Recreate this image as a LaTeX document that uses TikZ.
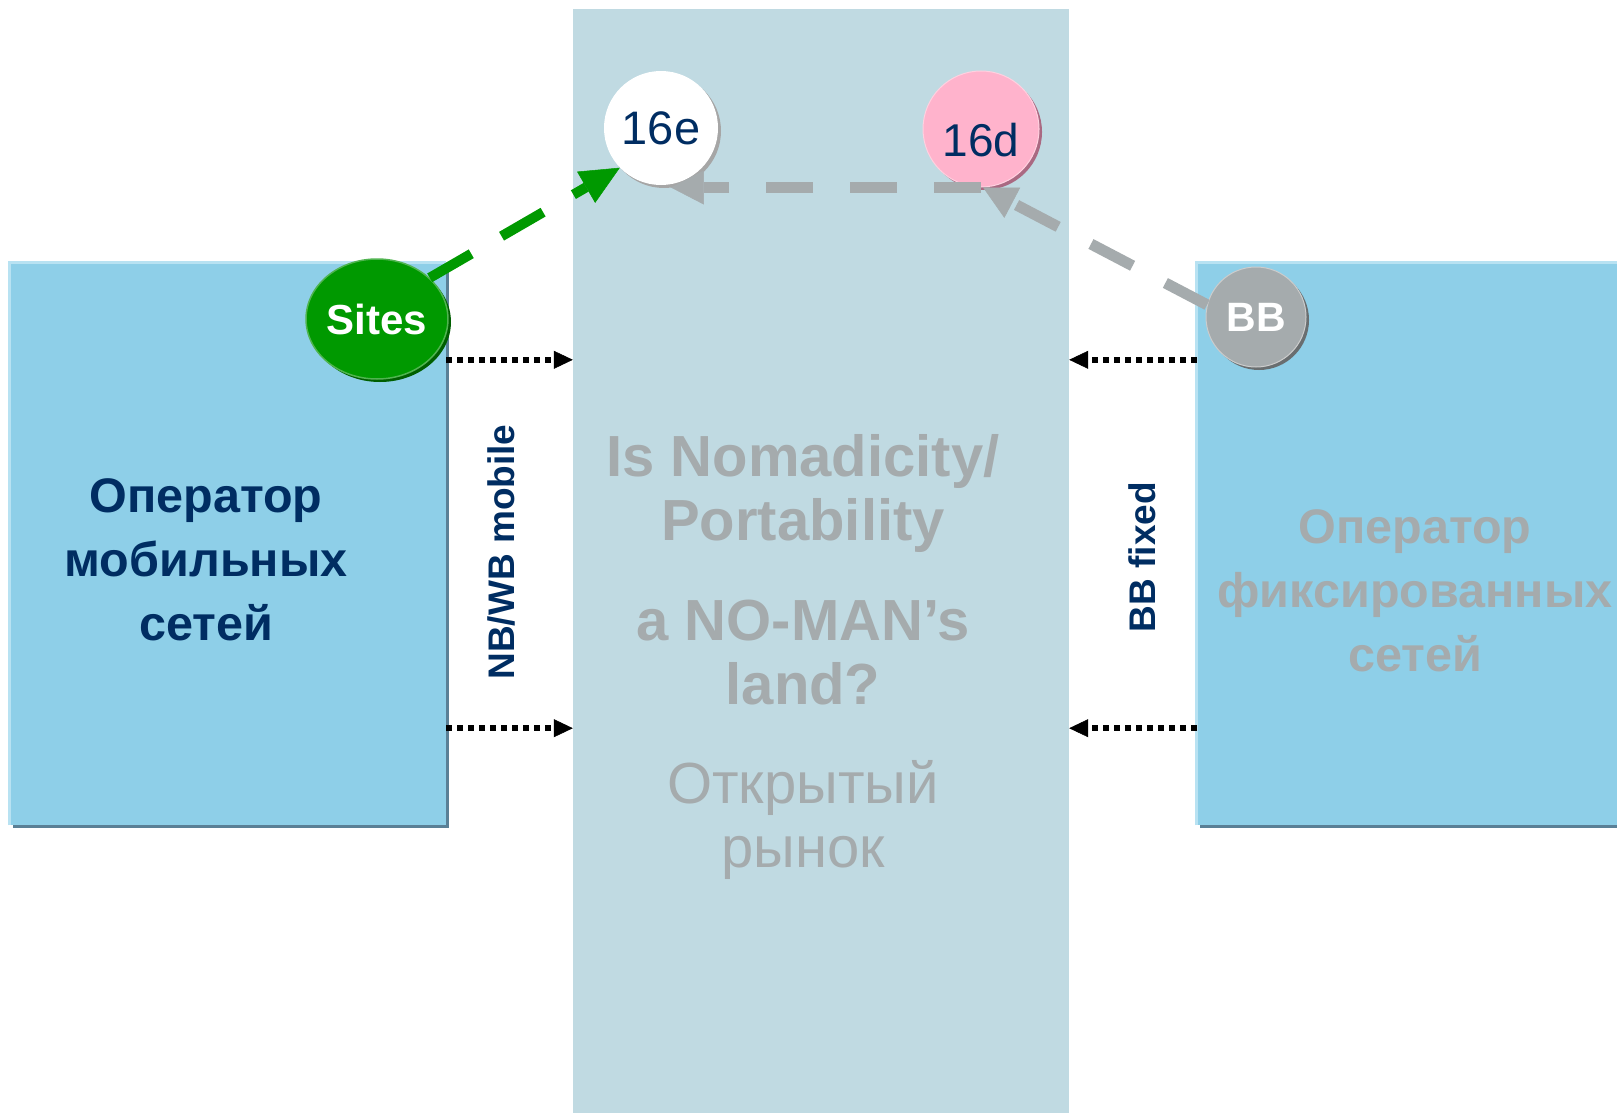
\documentclass[tikz,border=0pt]{standalone}
\usepackage{fontspec}
\setmainfont{Liberation Sans}
\usetikzlibrary{arrows.meta,shapes.geometric,shadows}
\definecolor{colbg}{RGB}{192,218,226}
\definecolor{boxbg}{RGB}{142,207,232}
\definecolor{boxlight}{RGB}{184,226,242}
\definecolor{boxdark}{RGB}{90,128,150}
\definecolor{navy}{RGB}{0,45,98}
\definecolor{txtgray}{RGB}{165,171,173}
\definecolor{sitegreen}{RGB}{0,153,0}
\definecolor{sitedark}{RGB}{0,95,0}
\definecolor{sitelight}{RGB}{80,180,80}
\definecolor{pinkc}{RGB}{255,179,204}
\definecolor{pinkdark}{RGB}{170,105,130}
\definecolor{bbgray}{RGB}{165,171,173}
\definecolor{bbdark}{RGB}{105,110,112}
\begin{document}
\begin{tikzpicture}[x=1pt,y=-1pt,
  opbox/.style={fill=boxbg, inner sep=0pt, minimum width=436pt, minimum height=562pt,
    drop shadow={shadow xshift=3pt, shadow yshift=-3pt, fill=boxdark, opacity=1}},
  bigtxt/.style={font=\fontsize{48.5}{64}\selectfont\bfseries, align=center},
  sidetxt/.style={font=\fontsize{37}{37}\selectfont\bfseries, text=navy, rotate=90},
  qtxt/.style={font=\fontsize{58}{64}\selectfont\bfseries, text=txtgray, align=center},
  dotarrow/.style={draw=black, line width=6pt, dash pattern=on 6pt off 5pt,
    -{Triangle[length=19pt,width=18pt,line width=0.5pt]}},
  greenarrow/.style={draw=sitegreen, line width=10pt, dash pattern=on 48pt off 35pt,
    -{Triangle[length=39pt,width=36pt,line width=0.5pt]}},
  grayarrow/.style={draw=bbgray, line width=11pt, dash pattern=on 47pt off 37pt,
    -{Triangle[length=33pt,width=34pt,line width=0.5pt]}},
  ball/.style={circle, inner sep=0pt},
]
\useasboundingbox (0,0) rectangle (1617,1113);
\fill[white] (0,0) rectangle (1617,1113);

% central column
\node[fill=colbg, inner sep=0pt, minimum width=496pt, minimum height=1104pt] (col) at (821,561) {};

% operator boxes
\node[opbox] (mob) at (228,544) {};
\draw[boxlight, line width=3pt] (mob.south west) -- (mob.north west) -- (mob.north east);
\node[opbox, minimum width=421pt] (fix) at (1407.5,544) {};
\draw[boxlight, line width=3pt] (fix.south west) -- (fix.north west) -- (fix.north east);

% texts
\node[bigtxt, text=navy] (mobtxt) at (206,560) {Оператор\\мобильных\\сетей};
\node[bigtxt, text=txtgray] (fixtxt) at (1415,591) {Оператор\\фиксированных\\сетей};
\node[qtxt] (q1) at (803,493) {Is Nomadicity/\\Portability};
\node[qtxt] (q2) at (803,653) {a NO-MAN’s\\land?};
\node[font=\fontsize{58}{64}\selectfont, text=txtgray, align=center] (open) at (803,820) {Открытый\\рынок};
\node[sidetxt] (nbwb) at (501,552) {NB/WB mobile};
\node[sidetxt] (bbfix) at (1142,557) {BB fixed};

% dotted arrows
\draw[dotarrow] ([yshift=-97pt]mob.north east) -- ([yshift=-97pt]mob.north east -| col.west);
\draw[dotarrow] ([yshift=97pt]mob.south east) -- ([yshift=97pt]mob.south east -| col.west);
\draw[dotarrow] ([yshift=-97pt]fix.north west) -- ([yshift=-97pt]fix.north west -| col.east);
\draw[dotarrow] ([yshift=97pt]fix.south west) -- ([yshift=97pt]fix.south west -| col.east);

% balls
\node[ellipse, inner sep=0pt, minimum width=137pt, minimum height=120pt, fill=sitegreen,
  draw=sitelight, line width=1.5pt,
  drop shadow={shadow xshift=3pt, shadow yshift=-3pt, fill=sitedark, opacity=1},
  font=\fontsize{42}{42}\selectfont\bfseries, text=white] (sites) at (377,319) {Sites};
\node[ball, minimum size=114pt, fill=white,
  drop shadow={shadow xshift=3pt, shadow yshift=-3pt, fill=black!35, opacity=1},
  font=\fontsize{47}{47}\selectfont, text=navy] (e16) at (661,128) {16e};
\node[ball, minimum size=116pt, fill=pinkc, draw=pinkc!60!white, line width=1pt,
  drop shadow={shadow xshift=3pt, shadow yshift=-3pt, fill=pinkdark, opacity=1},
  label={[font=\fontsize{46}{46}\selectfont, text=navy, yshift=-11pt]center:16d}] (d16) at (981,129) {};
\node[ball, minimum size=100pt, fill=bbgray, draw=black!20, line width=1pt,
  drop shadow={shadow xshift=3pt, shadow yshift=-3pt, fill=bbdark, opacity=1},
  font=\fontsize{41}{41}\selectfont\bfseries, text=white] (bb) at (1256,317) {BB};

% dashed arrows
\draw[greenarrow] (sites.38) -- (e16.224);
\draw[grayarrow] (bb.166) -- (d16.272);
\draw[grayarrow] (d16.south) -- (d16.south -| e16.280);
\end{tikzpicture}
\end{document}
